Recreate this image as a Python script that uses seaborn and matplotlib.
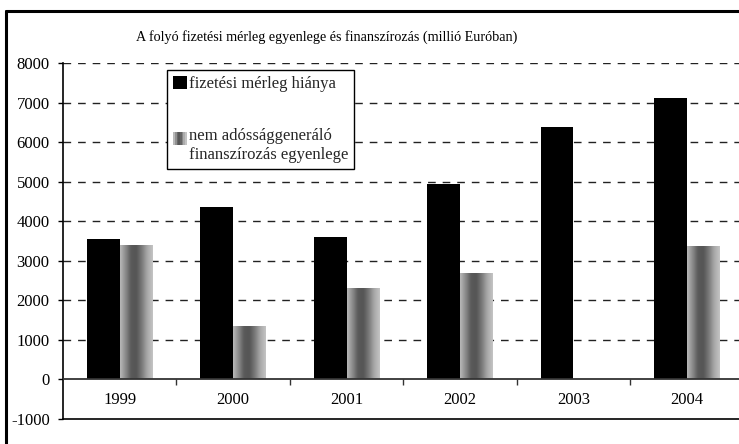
import numpy as np
import pandas as pd
import matplotlib
matplotlib.use('Agg')
import matplotlib.pyplot as plt
import seaborn as sns
from matplotlib.patches import Rectangle
from matplotlib.legend_handler import HandlerBase
from matplotlib.colors import LinearSegmentedColormap
from matplotlib.lines import Line2D

# ---- data ----
years = ['1999', '2000', '2001', '2002', '2003', '2004']
deficit = [3540, 4370, 3590, 4950, 6370, 7110]
nondebt = [3400, 1340, 2300, 2680, 0, 3380]
series_names = ['fizetési mérleg hiánya',
                'nem adóssággeneráló\nfinanszírozás egyenlege']
title = 'A folyó fizetési mérleg egyenlege és finanszírozás (millió Euróban)'
yticks = [-1000, 0, 1000, 2000, 3000, 4000, 5000, 6000, 7000, 8000]

sns.set_theme(style='white')
plt.rcParams['font.family'] = ['Liberation Serif', 'DejaVu Serif']

df = pd.DataFrame({
    'year': years * 2,
    'value': deficit + nondebt,
    'series': [series_names[0]] * len(years) + [series_names[1]] * len(years),
})

W, H = 739, 444
fig = plt.figure(figsize=(W / 100, H / 100), dpi=100)
fig.patch.set_facecolor('white')
ax = fig.add_axes([63 / W, 25 / H, 680.6 / W, 356 / H])

sns.barplot(data=df, x='year', y='value', hue='series',
            palette=['black', '#888888'], width=0.58, gap=0,
            saturation=1, linewidth=0, ax=ax, legend=False)

# gradient (cylinder-like) fill for the grey bars
grad_cmap = LinearSegmentedColormap.from_list(
    'cyl', ['#b8b8b8', '#8a8a8a', '#5a5a5a', '#555555', '#7a7a7a', '#a8a8a8', '#c4c4c4'])
grad = np.linspace(0, 1, 64).reshape(1, -1)
grey_patches = ax.patches[len(years):2 * len(years)]
for p in grey_patches:
    x0, y0 = p.get_x(), p.get_y()
    w, h = p.get_width(), p.get_height()
    if h <= 0:
        continue
    im = ax.imshow(grad, extent=[x0, x0 + w, y0, y0 + h], aspect='auto',
                   cmap=grad_cmap, zorder=p.get_zorder(), interpolation='bicubic')
    im.set_clip_path(p)
    p.set_facecolor('none')

ax.set_xlim(-0.5, len(years) - 0.5)
ax.set_ylim(yticks[0], yticks[-1])
ax.set_yticks(yticks)
ax.set_yticklabels([str(v) for v in yticks], fontsize=12)
ax.set_xticks([])
ax.set_xlabel('')
ax.set_ylabel('')

ax.tick_params(axis='y', direction='out', length=3.6, width=1, color='black',
               pad=6, left=True, labelcolor='black')

# grid
ax.set_axisbelow(True)
for v in yticks:
    if v > 0:
        ax.axhline(v, color='#222222', lw=1.0, linestyle=(0, (5.5, 5)), zorder=0.5)
ax.axhline(0, color='#333333', lw=1.3, zorder=3)
ax.vlines(np.arange(0.5, len(years) - 0.5, 1), -130, 0, color='#333333', lw=1.0, zorder=3)

for i, y in enumerate(years):
    ax.text(i, -530, y, ha='center', va='center', fontsize=12, color='black')

for s in ['top', 'right']:
    ax.spines[s].set_visible(False)
ax.spines['left'].set_color('black')
ax.spines['left'].set_linewidth(1.2)
ax.spines['bottom'].set_color('black')
ax.spines['bottom'].set_linewidth(1.2)

# legend
class GradHandler(HandlerBase):
    def create_artists(self, legend, orig_handle, xdescent, ydescent,
                       width, height, fontsize, trans):
        n = 8
        cols = [grad_cmap(t) for t in np.linspace(0, 1, n)]
        arts = []
        for k in range(n):
            r = Rectangle((-xdescent + k * width / n, -ydescent + height * 0.55),
                          width / n + 0.3, height, facecolor=cols[k],
                          edgecolor='none', transform=trans)
            arts.append(r)
        return arts

h1 = Rectangle((0, 0), 1, 1, facecolor='black', edgecolor='none')
h2 = Rectangle((0, 0), 1, 1, facecolor='#888888', edgecolor='none')
leg = ax.legend([h1, h2], series_names, handler_map={h2: GradHandler()},
                loc='upper left', bbox_to_anchor=(167 / W, 1 - 70 / H),
                bbox_transform=fig.transFigure, fontsize=12, frameon=True,
                fancybox=False, shadow=False, borderaxespad=0, borderpad=0.38,
                handlelength=0.8, handleheight=0.8, handletextpad=0.12,
                labelspacing=2.15)
leg.get_frame().set_edgecolor('black')
leg.get_frame().set_linewidth(1.0)
leg.get_frame().set_facecolor('white')
leg.get_frame().set_alpha(1)

fig.text(327 / W, 1 - 37 / H, title, ha='center', va='center', fontsize=10.2, color='black')

# outer frame (cut at right and bottom)
fig.add_artist(Line2D([6 / W, 6 / W], [0, 1 - 11 / H], transform=fig.transFigure,
                      color='black', lw=2.2))
fig.add_artist(Line2D([6 / W, 1], [1 - 11 / H, 1 - 11 / H], transform=fig.transFigure,
                      color='black', lw=2.2))

fig.savefig('out.png', dpi=100)
